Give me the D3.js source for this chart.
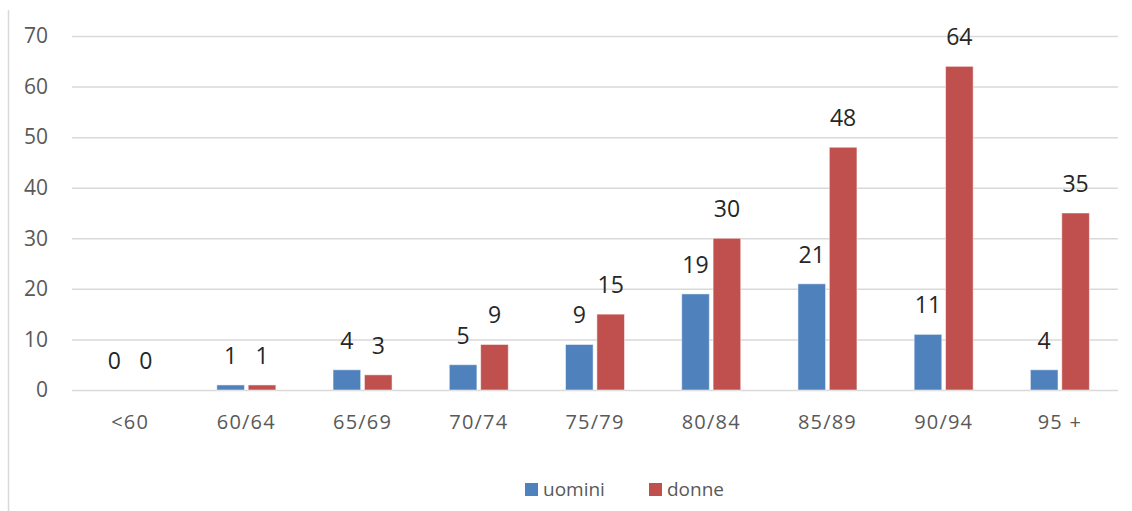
<!DOCTYPE html>
<html>
<head>
<meta charset="utf-8">
<script src="https://cdn.jsdelivr.net/npm/d3@7"></script>
<style>
  body { margin: 0; background: #fff; }
  svg { display: block; }
</style>
</head>
<body>
<div id="chart"></div>
<script>
const categories = ["<60", "60/64", "65/69", "70/74", "75/79", "80/84", "85/89", "90/94", "95 +"];
const uomini = [0, 1, 4, 5, 9, 19, 21, 11, 4];
const donne = [0, 1, 3, 9, 15, 30, 48, 64, 35];
const seriesNames = ["uomini", "donne"];
const seriesColors = ["#4F81BD", "#C0504D"];
const yTicks = [0, 10, 20, 30, 40, 50, 60, 70];

const width = 1132, height = 511;

const svg = d3.select("#chart").append("svg")
    .attr("width", width)
    .attr("height", height);

// left frame line
svg.append("line")
    .attr("x1", 8.5).attr("x2", 8.5)
    .attr("y1", 10).attr("y2", height)
    .attr("stroke", "#d9d9d9")
    .attr("stroke-width", 1.5);

const x = d3.scaleBand()
    .domain(categories)
    .range([72, 1118]);

const x1 = d3.scaleBand()
    .domain(seriesNames)
    .range([x.bandwidth() / 2 - 29.5, x.bandwidth() / 2 + 29.5])
    .paddingInner(0.12);

const y = d3.scaleLinear()
    .domain([0, 70])
    .range([390, 36]);

// grid + y labels
svg.append("g")
    .attr("transform", "translate(72,0)")
    .call(d3.axisLeft(y).tickValues(yTicks).tickSize(-1046).tickPadding(24))
    .call(g => g.select(".domain").remove())
    .call(g => g.selectAll(".tick line").attr("stroke", "#d9d9d9").attr("stroke-width", 1.5))
    .call(g => g.selectAll(".tick text")
        .attr("fill", "#595959")
        .attr("font-family", "Open Sans")
        .attr("font-size", "21px"));

// x axis labels
svg.append("g")
    .attr("transform", "translate(0,390)")
    .call(d3.axisBottom(x).tickSize(0).tickPadding(25))
    .call(g => g.select(".domain").remove())
    .call(g => g.selectAll(".tick text")
        .attr("fill", "#595959")
        .attr("font-family", "Open Sans")
        .attr("font-size", "20px")
        .attr("letter-spacing", "1.2px"));

const rows = categories.map((c, i) => ({ cat: c, vals: [uomini[i], donne[i]] }));

const grp = svg.append("g").selectAll("g")
    .data(rows)
    .join("g")
    .attr("transform", d => "translate(" + x(d.cat) + ",0)");

grp.selectAll("rect")
    .data(d => d.vals.map((v, j) => ({ v: v, s: seriesNames[j], c: seriesColors[j] })))
    .join("rect")
    .attr("x", d => x1(d.s))
    .attr("width", x1.bandwidth())
    .attr("y", d => y(d.v))
    .attr("height", d => y(0) - y(d.v))
    .attr("fill", d => d.c)
    .attr("stroke", d => d.v > 0 ? "rgba(255,255,255,0.5)" : "none")
    .attr("stroke-width", 1);

grp.selectAll("text")
    .data(d => d.vals.map((v, j) => ({ v: v, s: seriesNames[j] })))
    .join("text")
    .attr("x", d => x1(d.s) + x1.bandwidth() / 2)
    .attr("y", d => y(d.v) - 21)
    .attr("text-anchor", "middle")
    .attr("fill", "#262626")
    .attr("font-family", "Open Sans")
    .attr("font-size", "23px")
    .text(d => d.v);

// legend
const legend = svg.append("g")
    .attr("transform", "translate(525,483)");
const legX = [0, 124];
seriesNames.forEach((n, i) => {
  legend.append("rect")
      .attr("x", legX[i]).attr("y", 0)
      .attr("width", 13).attr("height", 13)
      .attr("fill", seriesColors[i]);
  legend.append("text")
      .attr("x", legX[i] + 18).attr("y", 13)
      .attr("fill", "#595959")
      .attr("font-family", "Open Sans")
      .attr("font-size", "19px")
      .text(n);
});
</script>
</body>
</html>
